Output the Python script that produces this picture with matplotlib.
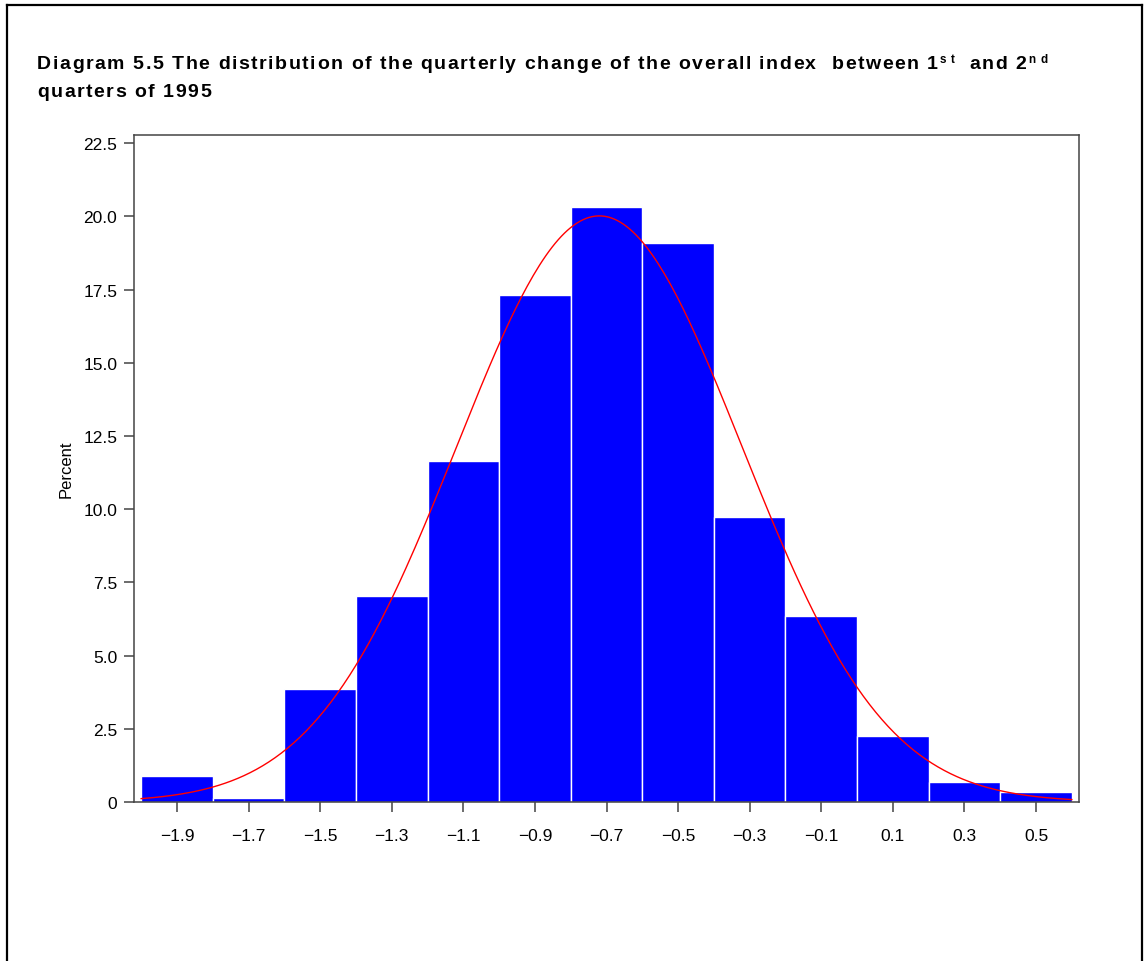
import numpy as np
import matplotlib
matplotlib.use("Agg")
import matplotlib.pyplot as plt
from matplotlib.lines import Line2D

# histogram of the quarterly change (percent of observations per 0.2 bin)
bin_mids = [-1.9, -1.7, -1.5, -1.3, -1.1, -0.9, -0.7, -0.5, -0.3, -0.1, 0.1, 0.3, 0.5]
percent = [0.89, 0.15, 3.87, 7.04, 11.65, 17.30, 20.33, 19.08, 9.74, 6.36, 2.26, 0.67, 0.33]
bin_width = 0.2

# fitted normal curve parameters
mu = -0.72
sigma = 0.3986

y_ticks = [0, 2.5, 5.0, 7.5, 10.0, 12.5, 15.0, 17.5, 20.0, 22.5]
y_labels = ["0", "2.5", "5.0", "7.5", "10.0", "12.5", "15.0", "17.5", "20.0", "22.5"]
x_labels = ["\u22121.9", "\u22121.7", "\u22121.5", "\u22121.3", "\u22121.1", "\u22120.9",
            "\u22120.7", "\u22120.5", "\u22120.3", "\u22120.1", "0.1", "0.3", "0.5"]

title_1 = [("Diagram 5.5 The distribution of the quarterly change of the overall index  between 1", False),
           ("s t", True), ("  and 2", False), ("n d", True)]
title_2 = [("quarters of 1995", False)]

W, H = 1146, 962
fig = plt.figure(figsize=(W / 100, H / 100), dpi=100)
plt.rcParams['font.family'] = ['Liberation Sans', 'DejaVu Sans']

ax = fig.add_axes([134 / W, 1 - 803 / H, (1079 - 134) / W, (803 - 136) / H])

ax.bar(bin_mids, percent, width=bin_width, color='#0000ff', edgecolor='white',
       linewidth=1.0, zorder=2)

xs = np.linspace(-2.0, 0.6, 300)
curve = 100 * bin_width * np.exp(-0.5 * ((xs - mu) / sigma) ** 2) / (sigma * np.sqrt(2 * np.pi))
ax.plot(xs, curve, color='red', linewidth=1.0, zorder=3)

ax.set_xlim(-2.02, 0.62)
ax.set_ylim(0, 22.78)
ax.set_xticks(bin_mids)
ax.set_xticklabels(x_labels, fontsize=12.5)
ax.set_yticks(y_ticks)
ax.set_yticklabels(y_labels, fontsize=12.5)
ax.tick_params(direction='out', length=7.5, width=1.1, color='#444444')
ax.tick_params(axis='x', pad=11)
ax.tick_params(axis='y', pad=4.5)
for s in ax.spines.values():
    s.set_color('#444444')
    s.set_linewidth(1.1)
ax.set_ylabel("Percent", fontsize=12, labelpad=7)


def tracked_line(pieces, x0, x1, y, size=14):
    # lay the characters out one by one so the line spreads evenly from x0 to x1
    r = fig.canvas.get_renderer()
    chars = []
    for txt, sup in pieces:
        for c in txt:
            chars.append((c, sup))
    widths = []
    for c, sup in chars:
        fs = size * 0.6 if sup else size
        t = fig.text(0, 0, c, fontsize=fs, fontweight='bold')
        widths.append(t.get_window_extent(r).width if c != ' ' else fs * 1.389 * 0.278)
        t.remove()
    if x1 is None:
        gap = tracked_line.gap
    else:
        gap = (x1 - x0 - sum(widths)) / (len(chars) - 1)
        tracked_line.gap = gap
    x = x0
    for (c, sup), w in zip(chars, widths):
        if c != ' ':
            fig.text(x / W, 1 - (y - (6 if sup else 0)) / H, c,
                     fontsize=size * 0.6 if sup else size, fontweight='bold',
                     ha='left', va='baseline', color='black')
        x += w + (gap * 0.5 if sup else gap)


tracked_line(title_1, 37, 1051, 69)
tracked_line(title_2, 37, None, 97)

# frame around the whole page
lw = 1.6
fig.add_artist(Line2D([7 / W, 1142 / W], [1 - 6 / H, 1 - 6 / H], transform=fig.transFigure, color='black', linewidth=lw))
fig.add_artist(Line2D([7 / W, 7 / W], [1 - 6 / H, 0], transform=fig.transFigure, color='black', linewidth=lw))
fig.add_artist(Line2D([1142 / W, 1142 / W], [1 - 6 / H, 0], transform=fig.transFigure, color='black', linewidth=lw))

fig.savefig("out.png", dpi=100)
